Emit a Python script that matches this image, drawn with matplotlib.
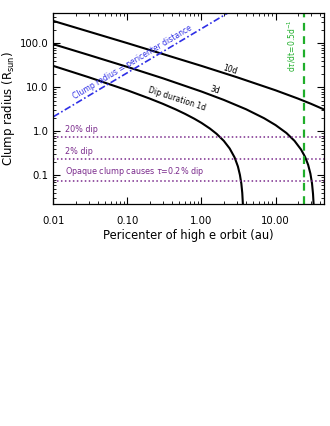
import matplotlib
matplotlib.use("Agg")
import matplotlib.pyplot as plt
from matplotlib.ticker import FixedLocator, LogLocator, NullFormatter

# values (pericenter in au, clump radius in R_sun)
rp_1d = [0.01, 0.03, 0.1, 0.2, 0.3, 0.45, 0.6, 0.8, 1.0, 1.3, 1.6, 2.0, 2.4, 2.8,
         3.1, 3.3, 3.45, 3.55, 3.62]
r_1d = [30.7, 17.0, 8.57, 5.56, 4.24, 3.15, 2.5, 1.94, 1.56, 1.16, 0.88, 0.61, 0.41,
        0.256, 0.16, 0.103, 0.065, 0.04, 0.022]

rp_3d = [0.01, 0.03, 0.1, 0.3, 1.0, 2.0, 4.0, 7.0, 10.0, 14.0, 18.0, 22.0, 25.0, 27.5,
         29.5, 31.0, 32.0, 32.6]
r_3d = [95.5, 54.4, 29.1, 16.1, 8.04, 5.19, 3.18, 1.99, 1.39, 0.92, 0.61, 0.39, 0.264,
        0.174, 0.11, 0.066, 0.038, 0.022]

rp_10d = [0.01, 0.1, 1.0, 3.0, 10.0, 20.0, 30.0, 45.0]
r_10d = [322, 100.8, 30.7, 17.0, 8.57, 5.57, 4.24, 3.15]

# clump radius = pericenter distance (1 au = 215 R_sun)
rp_eq = [0.01, 3.0]
r_eq = [2.15, 645]

dip_levels = [0.75, 0.24, 0.075]
dip_labels = ["20% dip", "2% dip", r"Opaque clump causes $\tau$=0.2% dip"]
rate_rp = 24.4

xticks = [0.01, 0.1, 1.0, 10.0]
xtick_labels = ["0.01", "0.10", "1.00", "10.00"]
yticks = [0.1, 1.0, 10.0, 100.0]
ytick_labels = ["0.1", "1.0", "10.0", "100.0"]

purple = "#7a2a8c"
blue = "#2f2fe6"
green = "#1fae2a"

fig = plt.figure(figsize=(3.3, 4.26), dpi=100)
ax = fig.add_axes([53.3 / 330, 1 - 204 / 426, (324 - 53.3) / 330, (204 - 13.3) / 426])

ax.plot(rp_10d, r_10d, color="black", lw=1.5)
ax.plot(rp_3d, r_3d, color="black", lw=1.5)
ax.plot(rp_1d, r_1d, color="black", lw=1.5)
ax.plot(rp_eq, r_eq, color=blue, lw=1.2, dashes=(4, 1.5, 1, 1.5))

for lev, lab in zip(dip_levels, dip_labels):
    ax.axhline(lev, color=purple, lw=1.1, ls=(0, (1, 1.6)))
    ax.text(0.0145, lev * 1.15, lab, color=purple, fontsize=5.8, va="bottom", ha="left")

ax.axvline(rate_rp, color=green, lw=1.6, dashes=(3.5, 2.5))
ax.text(16.8, 87, r"d$\tau$/dt=0.5d$^{-1}$", color=green, fontsize=5.5,
        rotation=90, ha="center", va="center")

ax.text(0.116, 37, "Clump radius = pericenter distance", color=blue, fontsize=5.5,
        rotation=30.7, ha="center", va="center", rotation_mode="anchor")
ax.text(2.44, 25.5, "10d", fontsize=5.5, rotation=-17, ha="center", va="center",
        rotation_mode="anchor")
ax.text(1.53, 8.6, "3d", fontsize=5.5, rotation=-17, ha="center", va="center",
        rotation_mode="anchor")
ax.text(0.47, 5.4, "Dip duration 1d", fontsize=5.5, rotation=-18, ha="center",
        va="center", rotation_mode="anchor")

ax.set_xscale("log")
ax.set_yscale("log")
ax.set_xlim(0.01, 45)
ax.set_ylim(0.0225, 480)

ax.xaxis.set_major_locator(FixedLocator(xticks))
ax.set_xticklabels(xtick_labels)
ax.yaxis.set_major_locator(FixedLocator(yticks))
ax.set_yticklabels(ytick_labels)
ax.xaxis.set_minor_locator(LogLocator(base=10, subs=range(2, 10)))
ax.yaxis.set_minor_locator(LogLocator(base=10, subs=range(2, 10)))
ax.xaxis.set_minor_formatter(NullFormatter())
ax.yaxis.set_minor_formatter(NullFormatter())
ax.tick_params(which="both", direction="in", top=True, right=True, labelsize=7.3)
ax.tick_params(which="major", length=5, width=0.8)
ax.tick_params(which="minor", length=2.5, width=0.6)
ax.tick_params(axis="x", pad=9)

ax.set_xlabel("Pericenter of high e orbit (au)", fontsize=8.3, labelpad=2)
ax.set_ylabel(r"Clump radius (R$_{\rm sun}$)", fontsize=8.5, labelpad=2)
for s in ax.spines.values():
    s.set_linewidth(0.9)

fig.savefig("out.png", dpi=100)
